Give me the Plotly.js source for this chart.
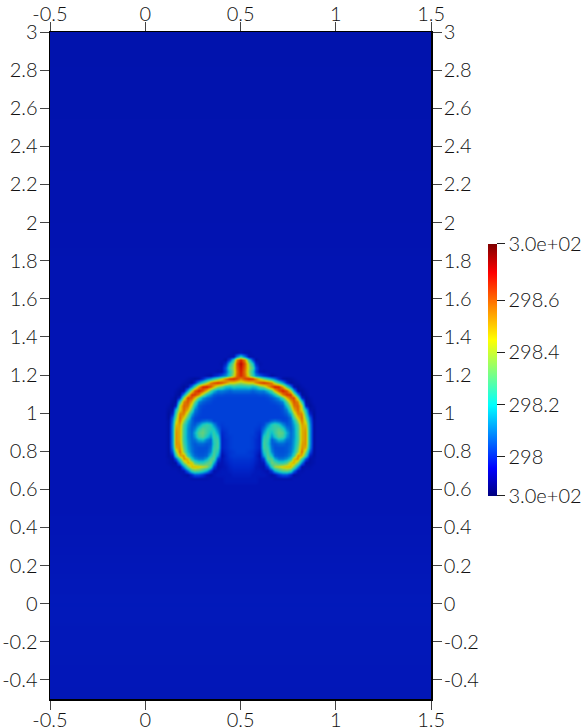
<!DOCTYPE html>
<html>
<head>
<meta charset="utf-8">
<script src="https://cdn.plot.ly/plotly-3.0.1.min.js"></script>
<style>html,body{margin:0;padding:0;background:#fff}</style>
</head>
<body>
<div id="chart"></div>
<script>
// field values are hundredths above 298
const bgX = [-0.5, 1.5];
const bgY = [-0.5, 0, 0.5, 0.58, 1.36, 2, 3];
const bgRows = [
  [-5.5, -5.5],
  [-5, -5],
  [-6, -6],
  [-6, -6],
  [-6, -6],
  [-6.5, -6.5],
  [-7, -7]
];

// left half of the plume, x = 0.10 .. 0.50 (the right half mirrors it)
const plumeX = [0.10, 0.12, 0.14, 0.16, 0.18, 0.20, 0.22, 0.24, 0.26, 0.28, 0.30, 0.32, 0.34, 0.36, 0.38, 0.40, 0.42, 0.44, 0.46, 0.48, 0.50];
const plumeY = [1.34, 1.32, 1.30, 1.28, 1.26, 1.24, 1.22, 1.20, 1.18, 1.16, 1.14, 1.12, 1.10, 1.08, 1.06, 1.04, 1.02, 1.00, 0.98, 0.96, 0.94, 0.92, 0.90, 0.88, 0.86, 0.84, 0.82, 0.80, 0.78, 0.76, 0.74, 0.72, 0.70, 0.68, 0.66, 0.64, 0.62, 0.60];
const plumeRows = [
  [-6,-6,-6,-6,-6,-6,-6,-6,-6,-6,-6,-6,-6,-6,-6,-6,-6,-6,-6,-6,-6],
  [-6,-6,-6,-6,-6,-6,-6,-6,-6,-6,-6,-6,-6,-6,-6,-6,-6,-6,-7,-7,-5],
  [-6,-6,-6,-6,-6,-6,-6,-6,-6,-6,-6,-6,-6,-6,-6,-6,-6,-7,-6,10,24],
  [-6,-6,-6,-6,-6,-6,-6,-6,-6,-6,-6,-6,-6,-6,-6,-6,-8,2,24,55,68],
  [-6,-6,-6,-6,-6,-6,-6,-6,-6,-6,-6,-6,-6,-6,-6,-7,-2,20,38,62,75],
  [-6,-6,-6,-6,-6,-6,-6,-6,-6,-6,-6,-6,-6,-6,-6,-6,5,28,40,60,72],
  [-6,-6,-6,-6,-6,-6,-6,-6,-6,-6,-6,-6,-6,-6,-7,-6,4,22,38,58,70],
  [-6,-6,-6,-6,-6,-6,-6,-6,-6,-6,-6,-7,-8,-4,0,6,12,25,42,60,68],
  [-6,-6,-6,-6,-6,-6,-7,-8,-9,-8,-2,8,15,23,32,43,56,66,68,64,56],
  [-6,-6,-6,-6,-6,-7,-8,-9,-2,14,26,39,56,62,66,62,55,46,45,42,38],
  [-6,-6,-6,-6,-7,-9,-7,10,28,52,68,70,62,50,36,31,20,18,22,20,20],
  [-6,-6,-6,-7,-9,-8,15,42,62,70,62,48,29,18,10,10,8,6,8,8,8],
  [-6,-6,-6,-8,-9,13,42,66,66,56,38,20,12,6,4,4,3,3,3,3,3],
  [-6,-6,-7,-9,-2,36,64,62,50,30,14,8,5,3,2,2,2,2,2,2,2],
  [-6,-6,-8,-9,24,56,62,50,32,11,6,4,3,2,2,2,2,2,2,2,2],
  [-6,-7,-9,-4,42,60,58,40,20,5,3,2,2,2,2,2,2,2,2,2,2],
  [-6,-8,-7,18,44,60,50,30,10,4,2,2,2,2,2,2,2,2,2,2,2],
  [-6,-9,-2,26,56,56,38,16,6,3,2,2,2,2,2,2,2,2,2,2,2],
  [-6,-9,7,33,59,46,28,8,3,2,2,2,2,2,2,2,2,2,2,2,2],
  [-6,-8,10,40,57,38,18,7,3,3,6,8,6,2,2,2,2,2,2,2,2],
  [-6,-8,13,48,52,29,14,6,5,12,22,26,22,12,3,1,2,2,2,2,2],
  [-6,-8,14,52,50,27,12,6,10,23,30,26,24,20,8,0,1,2,2,2,2],
  [-6,-8,14,54,50,27,12,7,16,30,33,26,18,25,14,-2,0,2,2,2,2],
  [-6,-8,14,54,50,26,12,7,13,27,30,20,12,26,22,-3,0,1,2,2,2],
  [-6,-8,14,54,50,26,13,7,8,16,18,10,6,24,26,-3,-1,1,2,2,2],
  [-6,-8,14,54,52,28,14,7,5,7,7,5,6,22,28,-3,-1,1,2,2,2],
  [-6,-8,12,50,54,32,15,8,5,4,4,4,8,25,27,-3,-1,1,2,2,2],
  [-6,-8,5,36,58,36,18,9,5,4,4,5,11,28,22,-5,-2,0,1,2,2],
  [-6,-8,-4,24,50,54,26,13,7,5,5,7,20,30,14,-7,-3,0,1,1,1],
  [-6,-7,-8,4,28,54,48,22,13,9,9,16,30,30,2,-6,-3,-1,0,0,0],
  [-6,-7,-8,-8,10,35,50,46,30,24,24,30,34,16,-5,-6,-4,-2,-1,-1,-1],
  [-6,-6,-7,-7,-8,12,34,48,48,46,42,38,24,2,-7,-6,-5,-3,-2,-2,-2],
  [-6,-6,-6,-6,-7,-6,8,26,32,30,24,16,2,-7,-6,-5,-5,-4,-3,-3,-3],
  [-6,-6,-6,-6,-6,-7,-8,-2,4,4,0,-6,-8,-6,-5,-5,-5,-5,-4,-4,-4],
  [-6,-6,-6,-6,-6,-6,-6,-7,-7,-7,-7,-7,-6,-6,-6,-6,-5,-5,-5,-5,-5],
  [-6,-6,-6,-6,-6,-6,-6,-6,-6,-6,-6,-6,-6,-6,-6,-6,-5,-5,-5,-5,-5],
  [-6,-6,-6,-6,-6,-6,-6,-6,-6,-6,-6,-6,-6,-6,-6,-6,-6,-6,-6,-6,-6],
  [-6,-6,-6,-6,-6,-6,-6,-6,-6,-6,-6,-6,-6,-6,-6,-6,-6,-6,-6,-6,-6]
];

const xTicks = [-0.5, 0, 0.5, 1, 1.5];
const xLabels = ["-0.5", "0", "0.5", "1", "1.5"];
const yTicks = [-0.4, -0.2, 0, 0.2, 0.4, 0.6, 0.8, 1, 1.2, 1.4, 1.6, 1.8, 2, 2.2, 2.4, 2.6, 2.8, 3];
const yLabels = ["-0.4", "-0.2", "0", "0.2", "0.4", "0.6", "0.8", "1", "1.2", "1.4", "1.6", "1.8", "2", "2.2", "2.4", "2.6", "2.8", "3"];
const barTicks = [297.85, 298, 298.2, 298.4, 298.6, 298.815];
const barLabels = ["3.0e+02", "298", "298.2", "298.4", "298.6", "3.0e+02"];

const zMin = 297.85;
const zMax = 298.815;

// The colorbar keeps the full rainbow, the field itself reads darker (surface shading in the source)
const barScale = [
  [0, "#00007f"], [0.11, "#0000ff"], [0.36, "#00ffff"], [0.49, "#7fff7f"],
  [0.62, "#ffff00"], [0.75, "#ff8800"], [0.885, "#ff0000"], [1, "#7f0000"]
];
const fieldScale = [
  [0, "#00007a"], [0.062, "#00109e"], [0.093, "#0214b4"], [0.135, "#0028cc"],
  [0.176, "#0040d8"], [0.26, "#0080d8"], [0.36, "#10c8c8"], [0.49, "#60d080"],
  [0.62, "#d8d800"], [0.75, "#e07800"], [0.885, "#d81800"], [1, "#700000"]
];

const toZ = rows => rows.map(r => r.map(v => 298 + v / 100));

// Mirror the left half about x = 0.5, rows go bottom-up for the heatmap
const mirroredX = plumeX.concat(plumeX.slice(0, -1).reverse().map(x => +(1 - x).toFixed(2)));
const mirroredRows = plumeRows.map(r => r.concat(r.slice(0, -1).reverse())).reverse();

const labelFont = { family: "Lato, sans-serif", size: 20, weight: 300, color: "#111" };

// Sits under the field and only supplies the colorbar
const barHost = {
  type: "heatmap", x: bgX, y: bgY, z: toZ(bgRows),
  zmin: zMin, zmax: zMax, colorscale: barScale, hoverinfo: "skip",
  colorbar: {
    x: 0.8173, xanchor: "left", xpad: 0,
    y: 0.4933, yanchor: "middle", ypad: 0,
    thickness: 9, thicknessmode: "pixels",
    len: 252, lenmode: "pixels",
    outlinewidth: 0,
    tickmode: "array", tickvals: barTicks, ticktext: barLabels,
    ticks: "outside", ticklen: 8, tickcolor: "#222",
    tickfont: labelFont
  }
};

const background = {
  type: "heatmap", x: bgX, y: bgY, z: toZ(bgRows),
  zmin: zMin, zmax: zMax, zsmooth: "best", colorscale: fieldScale, showscale: false,
  hoverinfo: "skip"
};

const plume = {
  type: "heatmap", x: mirroredX, y: plumeY.slice().reverse(), z: toZ(mirroredRows),
  zmin: zMin, zmax: zMax, zsmooth: "best", colorscale: fieldScale, showscale: false
};

// Carries the top and right axes so they draw their own labels
const frame = {
  type: "scatter", mode: "none", x: [-0.5, 1.5], y: [-0.5, 3],
  xaxis: "x2", yaxis: "y2", showlegend: false, hoverinfo: "skip"
};

const plotShare = 381.5 / 536.5;

const axisStyle = {
  showgrid: false, zeroline: false, showline: true, linecolor: "#000", linewidth: 1.5,
  ticks: "outside", ticklen: 9, tickcolor: "#444", tickmode: "array", tickfont: labelFont
};

const layout = {
  width: 586, height: 728, autosize: false,
  margin: { l: 49.5, r: 0, t: 32, b: 29, pad: 0 },
  paper_bgcolor: "#fff", plot_bgcolor: "#fff",
  showlegend: false,
  xaxis: Object.assign({}, axisStyle, { domain: [0, plotShare], range: [-0.5, 1.5], tickvals: xTicks, ticktext: xLabels, side: "bottom", ticklabelstandoff: -7 }),
  yaxis: Object.assign({}, axisStyle, { range: [-0.5, 3], tickvals: yTicks, ticktext: yLabels, side: "left", ticklabelstandoff: -2 }),
  xaxis2: Object.assign({}, axisStyle, { domain: [0, plotShare], range: [-0.5, 1.5], tickvals: xTicks, ticktext: xLabels, side: "top", overlaying: "x", anchor: "y", ticklabelstandoff: -7 }),
  yaxis2: Object.assign({}, axisStyle, { range: [-0.5, 3], tickvals: yTicks, ticktext: yLabels, side: "right", overlaying: "y", anchor: "x", ticklabelstandoff: -2 })
};

Plotly.newPlot("chart", [barHost, background, plume, frame], layout, { displayModeBar: false, staticPlot: true });
</script>
</body>
</html>
